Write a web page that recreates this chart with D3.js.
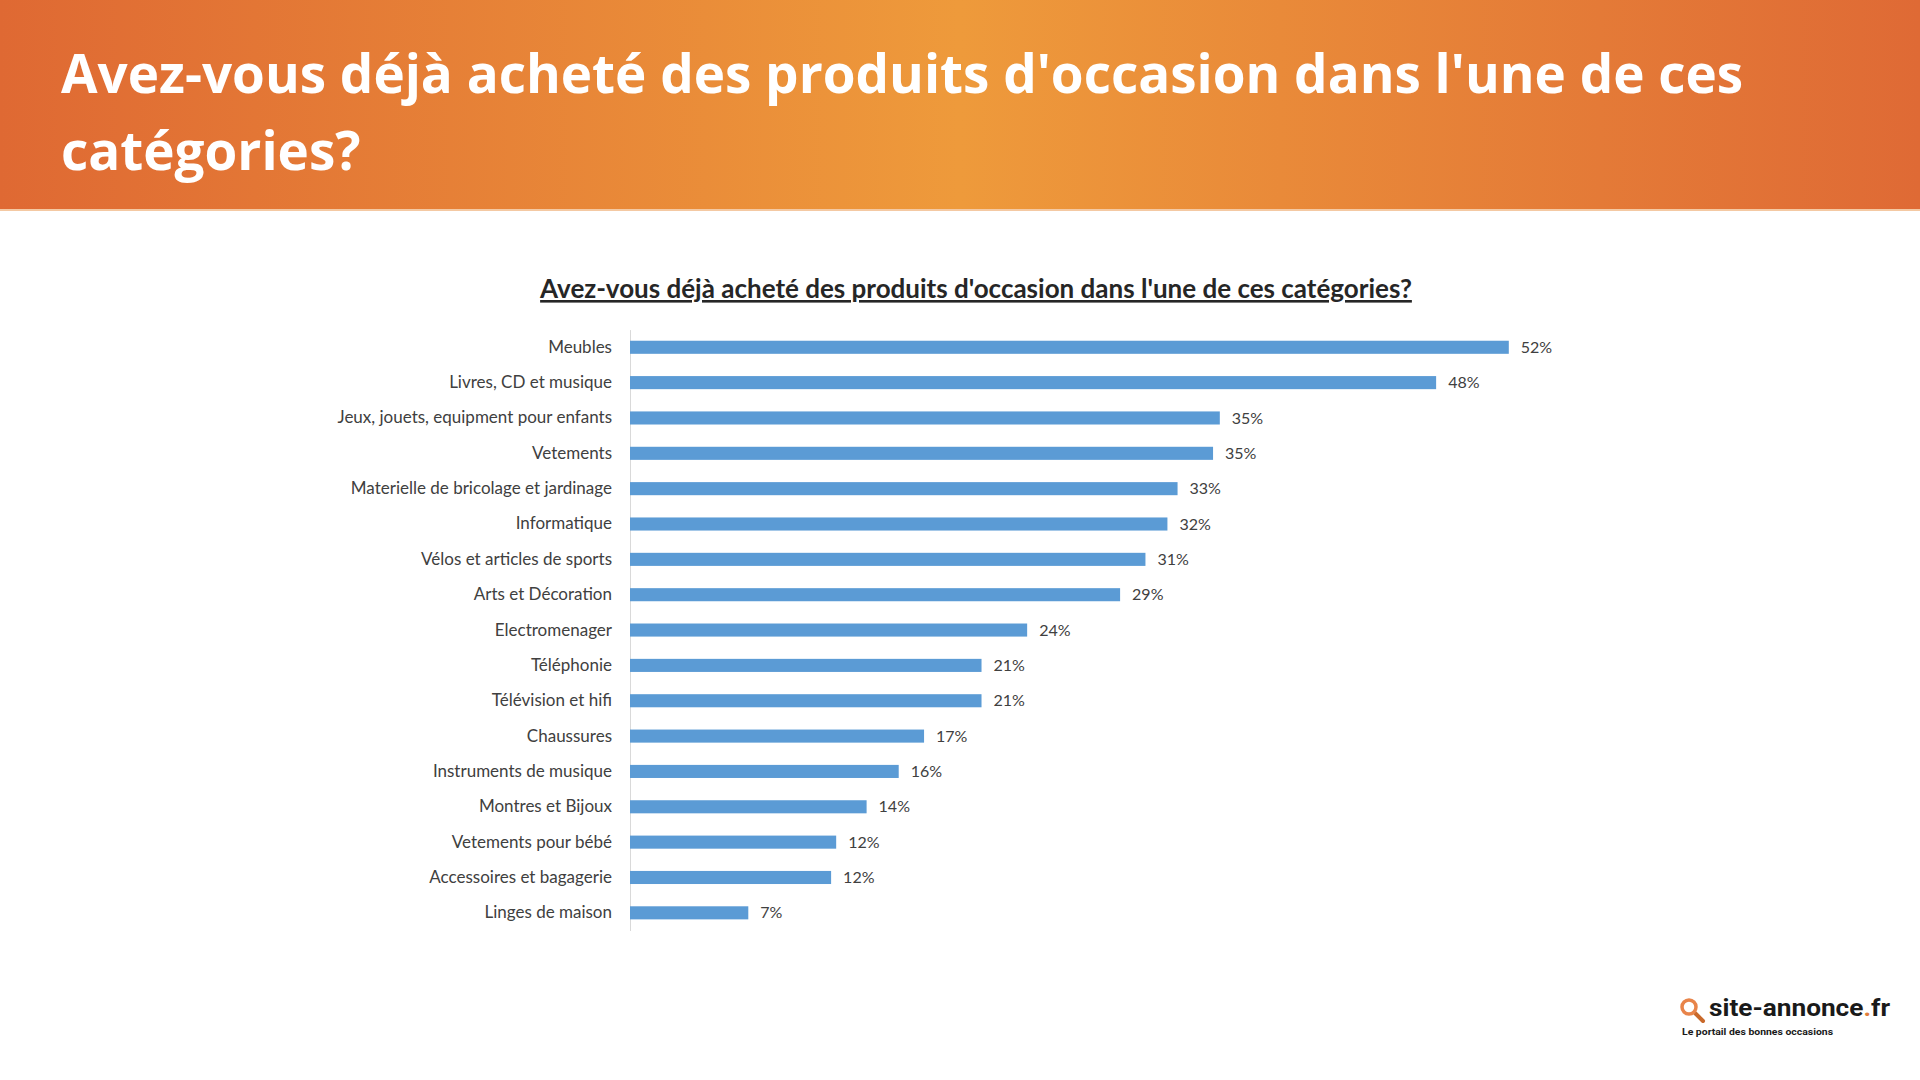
<!DOCTYPE html>
<html>
<head>
<meta charset="utf-8">
<script src="https://cdn.jsdelivr.net/npm/d3@7"></script>
<style>
  html, body { margin: 0; padding: 0; background: #fff; }
  svg { display: block; }
</style>
</head>
<body>
<div id="chart"></div>
<script>

// data
var categories = [
  "Meubles",
  "Livres, CD et musique",
  "Jeux, jouets, equipment pour enfants",
  "Vetements",
  "Materielle de bricolage et jardinage",
  "Informatique",
  "Vélos et articles de sports",
  "Arts et Décoration",
  "Electromenager",
  "Téléphonie",
  "Télévision et hifi",
  "Chaussures",
  "Instruments de musique",
  "Montres et Bijoux",
  "Vetements pour bébé",
  "Accessoires et bagagerie",
  "Linges de maison"
]

var values = [52.0, 47.7, 34.9, 34.5, 32.4, 31.8, 30.5, 29.0, 23.5, 20.8, 20.8, 17.4, 15.9, 14.0, 12.2, 11.9, 7.0]

var valueLabels = ["52%", "48%", "35%", "35%", "33%", "32%", "31%", "29%", "24%", "21%", "21%", "17%", "16%", "14%", "12%", "12%", "7%"]

var headerLines = ["Avez-vous déjà acheté des produits d'occasion dans l'une de ces", "catégories?"]

var chartTitle = "Avez-vous déjà acheté des produits d'occasion dans l'une de ces catégories?"

var width = 1920
var height = 1080

var svg = d3.select("#chart").append("svg")
    .attr("width", width)
    .attr("height", height)

// header band
var defs = svg.append("defs")

var grad = defs.append("linearGradient")
    .attr("id", "headerGrad")
    .attr("x1", "0%").attr("x2", "100%")
    .attr("y1", "0%").attr("y2", "0%")

grad.append("stop").attr("offset", "0%").attr("stop-color", "#df6933")
grad.append("stop").attr("offset", "50%").attr("stop-color", "#ee9a3b")
grad.append("stop").attr("offset", "100%").attr("stop-color", "#df6a35")

svg.append("rect")
    .attr("x", 0).attr("y", 0)
    .attr("width", width).attr("height", 210)
    .attr("fill", "url(#headerGrad)")

svg.append("rect")
    .attr("x", 0).attr("y", 209)
    .attr("width", width).attr("height", 2)
    .attr("fill", "#f4c9a3")

svg.selectAll(".header-line")
    .data(headerLines)
    .enter().append("text")
    .attr("class", "header-line")
    .attr("x", 61)
    .attr("y", (d, i) => 93 + i * 77)
    .attr("fill", "#fff")
    .style("font-family", "'Open Sans', sans-serif")
    .style("font-weight", 700)
    .style("font-size", "53px")
    .text(d => d)

// chart title
svg.append("text")
    .attr("x", 976)
    .attr("y", 298)
    .attr("text-anchor", "middle")
    .attr("fill", "#262626")
    .style("font-family", "Lato, sans-serif")
    .style("font-weight", 700)
    .style("font-size", "26px")
    .style("text-decoration", "underline")
    .text(chartTitle)

// scales
var x = d3.scaleLinear()
    .domain([0, 55])
    .range([630, 630 + 55 * 16.9])

var y = d3.scaleBand()
    .domain(categories)
    .range([329.6, 930.5])
    .paddingInner(0.63)
    .paddingOuter(0.315)

var yAxis = svg.append("g")
    .attr("transform", "translate(" + x(0) + ",0)")
    .call(d3.axisLeft(y).tickSize(0).tickSizeOuter(0).tickPadding(18))

yAxis.select(".domain")
    .attr("stroke", "#d9d9d9")
    .attr("stroke-width", 1)

yAxis.selectAll("text")
    .attr("fill", "#404040")
    .style("font-family", "Lato, sans-serif")
    .style("font-size", "17px")

var rows = categories.map((c, i) => ({ name: c, value: values[i], label: valueLabels[i] }))

svg.selectAll(".bar")
    .data(rows)
    .enter().append("rect")
    .attr("class", "bar")
    .attr("x", x(0))
    .attr("y", d => y(d.name))
    .attr("width", d => x(d.value) - x(0))
    .attr("height", y.bandwidth())
    .attr("fill", "#5b9bd5")

svg.selectAll(".value")
    .data(rows)
    .enter().append("text")
    .attr("class", "value")
    .attr("x", d => x(d.value) + 12)
    .attr("y", d => y(d.name) + y.bandwidth() / 2)
    .attr("dy", "0.35em")
    .attr("fill", "#404040")
    .style("font-family", "Lato, sans-serif")
    .style("font-size", "16px")
    .text(d => d.label)

// logo bottom right
var logo = svg.append("g")

logo.append("line")
    .attr("x1", 1695).attr("y1", 1013)
    .attr("x2", 1703).attr("y2", 1021)
    .attr("stroke", "#c9692b")
    .attr("stroke-width", 4)
    .attr("stroke-linecap", "round")

logo.append("circle")
    .attr("cx", 1689).attr("cy", 1007)
    .attr("r", 7)
    .attr("fill", "none")
    .attr("stroke", "#e8844a")
    .attr("stroke-width", 3.5)

var brand = logo.append("text")
    .attr("x", 1709)
    .attr("y", 1016)
    .attr("fill", "#1a1a1a")
    .attr("textLength", 181)
    .attr("lengthAdjust", "spacingAndGlyphs")
    .style("font-family", "Roboto, sans-serif")
    .style("font-weight", 700)
    .style("font-size", "24px")

brand.append("tspan").text("site-annonce")
brand.append("tspan").attr("fill", "#e07e3c").text(".")
brand.append("tspan").text("fr")

logo.append("text")
    .attr("x", 1682)
    .attr("y", 1035)
    .attr("fill", "#1a1a1a")
    .attr("textLength", 151)
    .attr("lengthAdjust", "spacingAndGlyphs")
    .style("font-family", "Roboto, sans-serif")
    .style("font-weight", 700)
    .style("font-size", "9.5px")
    .text("Le portail des bonnes occasions")

</script>
</body>
</html>
